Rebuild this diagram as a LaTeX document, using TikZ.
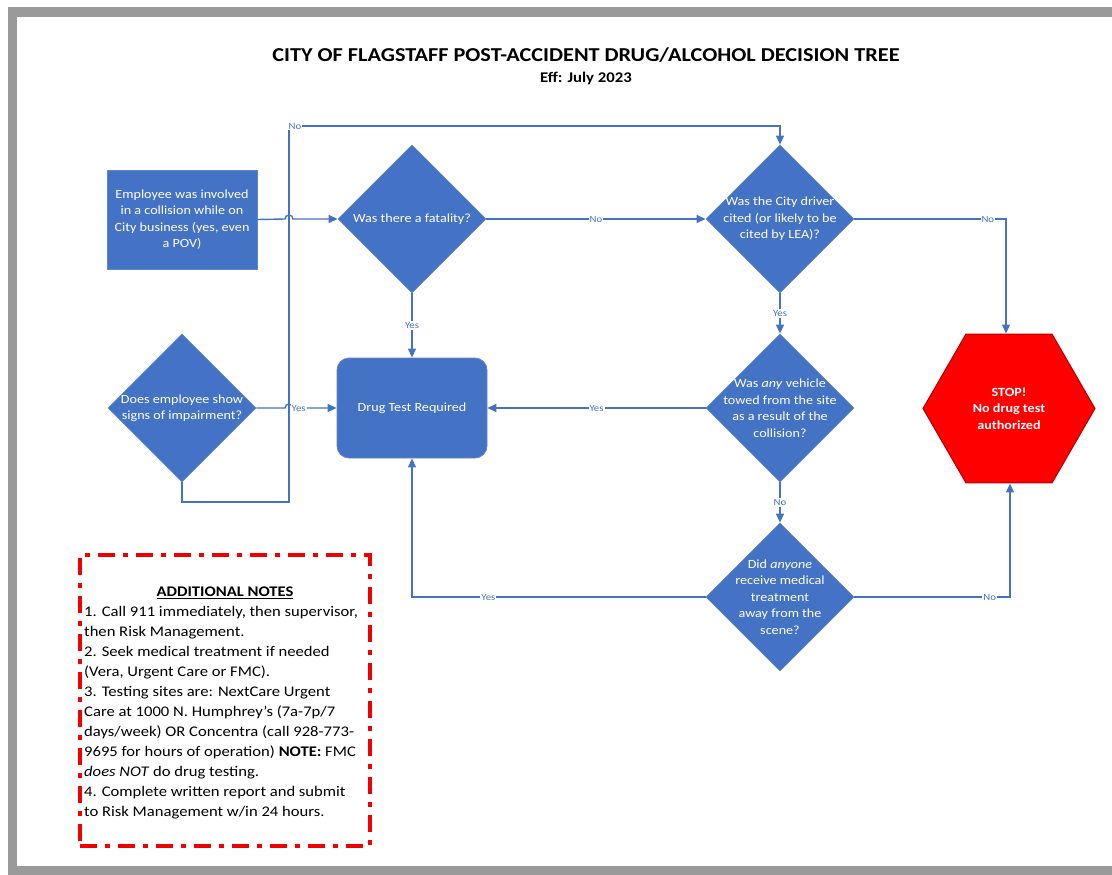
\documentclass[tikz,border=0pt]{standalone}
\usepackage{fontspec}
\setmainfont{Carlito}[FakeStretch=1.13]
\usetikzlibrary{shapes.geometric,arrows.meta}
\definecolor{fcblue}{HTML}{4472C4}
\definecolor{framegray}{HTML}{9A9A9A}
\definecolor{stopred}{HTML}{FF0000}
\definecolor{stopedge}{HTML}{B00000}
\definecolor{notered}{HTML}{F00000}
\begin{document}
\begin{tikzpicture}[x=1pt,y=-1pt,
  shapetext/.style={text=white, align=center, font=\fontsize{12.5}{16.5}\selectfont, inner sep=0pt},
  startbox/.style={rectangle, fill=fcblue, draw=fcblue!85!white, line width=0.8pt, shapetext, minimum width=150pt, minimum height=99pt},
  drugbox/.style={rectangle, rounded corners=12pt, fill=fcblue, draw=fcblue!85!white, line width=0.8pt, shapetext, minimum width=150pt, minimum height=100pt},
  dia/.style={diamond, aspect=1, fill=fcblue, draw=fcblue!85!white, line width=0.8pt, minimum width=148pt, minimum height=148pt, inner sep=0pt},
  dtext/.style={shapetext},
  hex/.style={regular polygon, regular polygon sides=6, minimum size=172pt, inner sep=0pt, fill=stopred, draw=stopedge, line width=1pt, text=white, align=center, font=\fontsize{12.5}{16.5}\selectfont\bfseries},
  conn/.style={draw=fcblue, line width=1.4pt, -{Triangle[length=9pt,width=8pt]}},
  lbl/.style={fill=white, text=fcblue, font=\fontsize{9.5}{11}\selectfont, inner sep=1pt},
  notesbox/.style={draw=notered, line width=3.5pt, dash pattern=on 17pt off 8pt on 5pt off 8pt, minimum width=290pt, minimum height=291pt, inner sep=0pt},
  notetext/.style={font=\fontsize{14.7}{20}\selectfont, align=left, inner sep=0pt, text=black}
]
\useasboundingbox (0,0) rectangle (1112,875);
\fill[white] (0,0) rectangle (1112,875);
\fill[framegray] (8,7) rectangle (1112,17);
\fill[framegray] (8,7) rectangle (17,875);
\fill[framegray] (8,866) rectangle (1112,875);

% titles
\node[font=\fontsize{19.7}{22}\selectfont\bfseries, inner sep=0pt] (title) at (586,55) {CITY OF FLAGSTAFF POST-ACCIDENT DRUG/ALCOHOL DECISION TREE};
\node[font=\fontsize{14.8}{17}\selectfont\bfseries, inner sep=0pt] (eff) at (586,78) {Eff: July 2023};

% shapes
\node[startbox] (start) at (182,219.5) {Employee was involved\\in a collision while on\\City business (yes, even\\a POV)};
\node[dia, label={[dtext]center:Was there a fatality?}] (d1) at (412,219) {};
\node[dia, label={[dtext]center:Was the City driver\\cited (or likely to be\\cited by LEA)?}] (d2) at (780,219) {};
\node[dia, label={[dtext]center:Was \textit{any} vehicle\\towed from the site\\as a result of the\\collision?}] (d3) at (780,408) {};
\node[dia, label={[dtext]center:Did \textit{anyone}\\receive medical\\treatment\\away from the\\scene?}] (d4) at (780,597) {};
\node[dia, label={[dtext]center:Does employee show\\signs of impairment?}] (d5) at (182,408) {};
\node[drugbox] (drug) at (412,408) {Drug Test Required};
\node[hex] (stop) at (1009,408.5) {STOP!\\No drug test\\authorized};

% connectors
\coordinate (hop1) at (289,219);
\coordinate (hop2) at (289,408);
\coordinate (nb) at (289,502);
\coordinate (nt) at (289,126);

\draw[conn] (start.east) -- ([xshift=-4pt]hop1) arc[start angle=180, end angle=0, radius=4pt] -- (d1.west);
\draw[conn] (d5.east) -- ([xshift=-4pt]hop2) arc[start angle=180, end angle=0, radius=4pt] -- node[lbl, pos=0.13]{Yes} (drug.west);
\draw[conn] (d5.south) |- (nb) -- (nt) -- node[lbl, pos=0.012]{No} (nt -| d2.north) -- (d2.north);
\draw[conn] (d1.south) -- node[lbl]{Yes} (drug.north);
\draw[conn] (d1.east) -- node[lbl]{No} (d2.west);
\draw[conn] (d2.east) -| node[lbl, pos=0.44]{No} ([xshift=-3pt]stop.north);
\draw[conn] (d2.south) -- node[lbl]{Yes} (d3.north);
\draw[conn] (d3.west) -- node[lbl]{Yes} (drug.east);
\draw[conn] (d3.south) -- node[lbl]{No} (d4.north);
\draw[conn] (d4.west) -| node[lbl, pos=0.37]{Yes} (drug.south);
\draw[conn] (d4.east) -| node[lbl, pos=0.435]{No} ([xshift=1pt]stop.south);

% notes
\node[notesbox] (notes) at (225,700.5) {};
\node[font=\fontsize{14.7}{20}\selectfont\bfseries, inner sep=0pt] (nhead) at (225,593) {\underline{ADDITIONAL NOTES}};
\node[notetext, anchor=north west] (nbody) at (84,606) {1. Call 911 immediately, then supervisor,\\
then Risk Management.\\
2. Seek medical treatment if needed\\
(Vera, Urgent Care or FMC).\\
3. Testing sites are: NextCare Urgent\\
Care at 1000 N. Humphrey's (7a-7p/7\\
days/week) OR Concentra (call 928-773-\\
9695 for hours of operation) \textbf{NOTE:} FMC\\
\textit{does NOT} do drug testing.\\
4. Complete written report and submit\\
to Risk Management w/in 24 hours.};
\end{tikzpicture}
\end{document}
